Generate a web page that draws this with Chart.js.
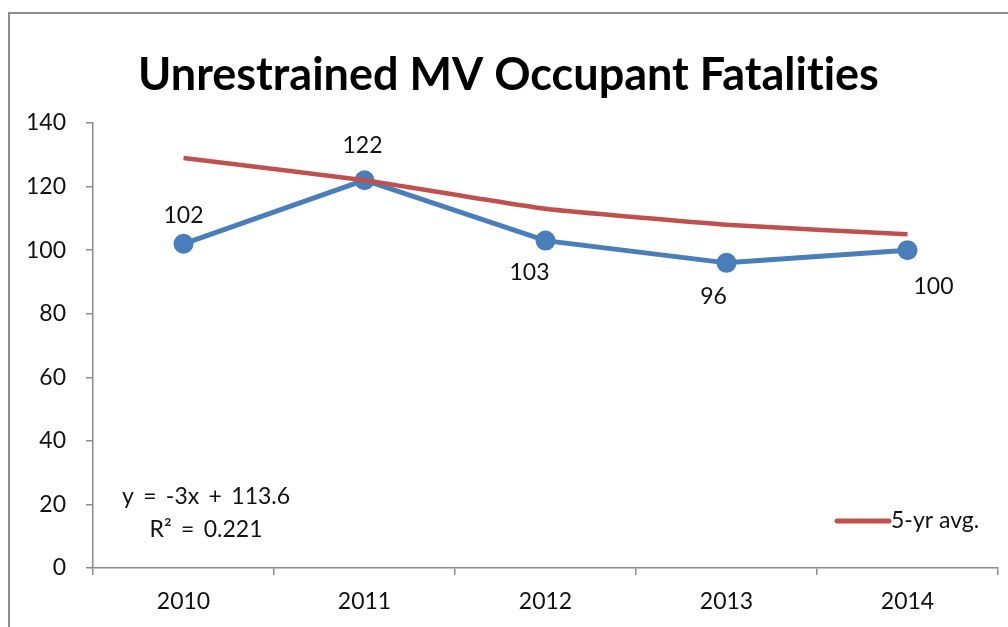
<!DOCTYPE html>
<html>
<head>
<meta charset="utf-8">
<script src="https://cdn.jsdelivr.net/npm/chart.js@4.4.1/dist/chart.umd.min.js"></script>
<style>
    html, body { margin: 0; padding: 0; background: #fff; }
    #wrap { width: 1008px; height: 627px; position: relative; }
</style>
</head>
<body>
<div id="wrap"><canvas id="chart"></canvas></div>
<script>
const years = ['2010', '2011', '2012', '2013', '2014'];
const fatalities = [102, 122, 103, 96, 100];
const fiveYearAvg = [129, 122, 113, 108, 105];
const yTicks = [0, 20, 40, 60, 80, 100, 120, 140];
const trendText = ['y = -3x + 113.6', 'R\u00B2 = 0.221'];

// where Excel put each data label relative to its point
const labelPlacement = [
    { dx: 0, dy: -28 },
    { dx: -2, dy: -35 },
    { dx: -16, dy: 32 },
    { dx: -13, dy: 34 },
    { dx: 26, dy: 36 }
];

const FONT = 'Lato, "Open Sans", sans-serif';
const TEXT = '#111';

const frame = {
    id: 'frame',
    beforeDraw(chart) {
        const ctx = chart.ctx;
        ctx.save();
        ctx.fillStyle = '#fff';
        ctx.fillRect(0, 0, chart.width, chart.height);
        ctx.strokeStyle = '#8c8c8c';
        ctx.lineWidth = 2;
        ctx.strokeRect(9, 13, 1100, 700);
        ctx.restore();
    }
};

const extras = {
    id: 'extras',
    afterDatasetsDraw(chart) {
        const ctx = chart.ctx;
        const area = chart.chartArea;
        ctx.save();
        ctx.font = '23px ' + FONT;
        ctx.fillStyle = TEXT;
        ctx.textAlign = 'center';
        ctx.textBaseline = 'middle';

        // data labels for the yearly counts
        const meta = chart.getDatasetMeta(0);
        meta.data.forEach((pt, i) => {
            const p = labelPlacement[i];
            ctx.fillText(String(fatalities[i]), pt.x + p.dx, pt.y + p.dy);
        });

        // trendline equation
        if ('wordSpacing' in ctx) ctx.wordSpacing = '3.5px';
        ctx.fillText(trendText[0], area.left + 113, area.bottom - 71);
        ctx.fillText(trendText[1], area.left + 113, area.bottom - 38);
        if ('wordSpacing' in ctx) ctx.wordSpacing = '0px';

        // legend (only the average series is listed)
        const ly = area.bottom - 47;
        ctx.strokeStyle = '#C0504D';
        ctx.lineWidth = 5;
        ctx.lineCap = 'round';
        ctx.beginPath();
        ctx.moveTo(837, ly);
        ctx.lineTo(889, ly);
        ctx.stroke();
        ctx.textAlign = 'left';
        ctx.fillText('5-yr avg.', 891, ly);
        ctx.restore();
    }
};

new Chart(document.getElementById('chart'), {
    type: 'line',
    data: {
        labels: years,
        datasets: [
            {
                label: 'Fatalities',
                data: fatalities,
                borderColor: '#4A7EBB',
                backgroundColor: '#4A7EBB',
                borderWidth: 5,
                pointRadius: 10,
                pointHoverRadius: 10,
                pointBorderWidth: 0,
                tension: 0,
                order: 2
            },
            {
                label: '5-yr avg.',
                data: fiveYearAvg,
                borderColor: '#C0504D',
                backgroundColor: '#C0504D',
                borderWidth: 4.5,
                pointRadius: 0,
                tension: 0.15,
                order: 1
            }
        ]
    },
    options: {
        responsive: true,
        maintainAspectRatio: false,
        animation: false,
        events: [],
        // left padding nudges the centred title right; the y scale width makes up for it
        layout: { padding: { left: 18, right: 9, top: 0, bottom: 0 } },
        plugins: {
            legend: { display: false },
            tooltip: { enabled: false },
            title: {
                display: true,
                // zero-width non-joiner keeps Lato from using its "ti" ligature
                text: 'Unrestrained MV Occupant Fatalit\u200Cies',
                color: '#000',
                font: { family: FONT, size: 45, weight: 'bold' },
                padding: { top: 48, bottom: 21 }
            }
        },
        scales: {
            x: {
                offset: true,
                grid: {
                    offset: true,
                    drawOnChartArea: false,
                    drawTicks: true,
                    tickLength: 7,
                    color: '#8c8c8c',
                    lineWidth: 1.5
                },
                border: { color: '#8c8c8c', width: 1.5 },
                ticks: {
                    color: TEXT,
                    font: { family: FONT, size: 23 },
                    padding: 13
                },
                afterFit(scale) { scale.height = 59; }
            },
            y: {
                min: 0,
                max: 140,
                afterBuildTicks(scale) {
                    scale.ticks = yTicks.map(v => ({ value: v }));
                },
                grid: {
                    drawOnChartArea: false,
                    drawTicks: true,
                    tickLength: 7,
                    color: '#8c8c8c',
                    lineWidth: 1.5
                },
                border: { color: '#8c8c8c', width: 1.5 },
                ticks: {
                    color: TEXT,
                    font: { family: FONT, size: 23 },
                    padding: 20
                },
                afterFit(scale) { scale.width = 75; }
            }
        }
    },
    plugins: [frame, extras]
});
</script>
</body>
</html>
